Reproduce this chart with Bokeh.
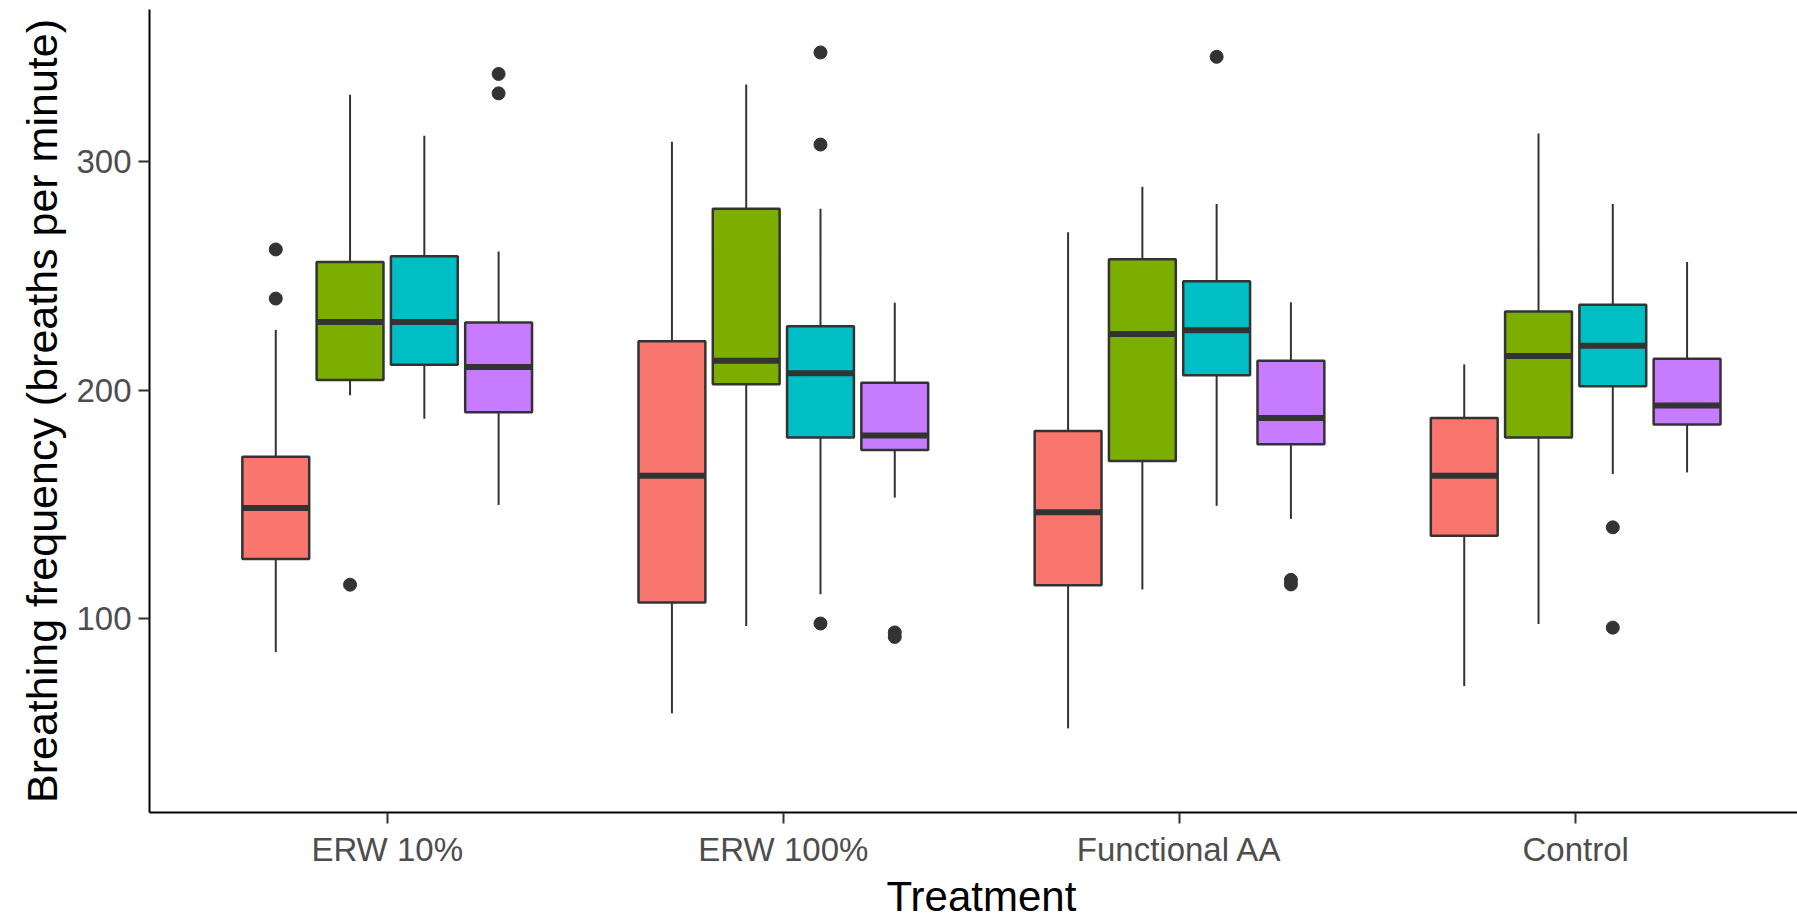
from bokeh.plotting import figure
from bokeh.models import FixedTicker, Range1d, Title
from bokeh.embed import file_html
from bokeh.resources import INLINE

# Treatments on the x axis and the four fill groups dodged within each
treatments = ["ERW 10%", "ERW 100%", "Functional AA", "Control"]
group_colors = ["#F8766D", "#7CAE00", "#00BFC4", "#C77CFF"]
y_ticks = [100, 200, 300]

# Box statistics, one list per fill group, values in treatment order
whisker_low = [
    [85.4, 58.6, 52.0, 70.5],
    [197.8, 96.8, 112.8, 97.7],
    [187.5, 110.7, 149.4, 163.3],
    [149.8, 153.0, 143.7, 164.0],
]
q1 = [
    [126.1, 107.1, 114.6, 136.3],
    [204.5, 202.6, 169.0, 179.3],
    [211.1, 179.3, 206.5, 201.7],
    [190.3, 173.8, 176.3, 185.0],
]
median = [
    [148.5, 162.6, 146.6, 162.6],
    [229.8, 212.9, 224.6, 215.0],
    [229.8, 207.4, 226.2, 219.5],
    [210.2, 180.2, 187.8, 193.3],
]
q3 = [
    [170.9, 221.4, 182.1, 187.8],
    [256.1, 279.4, 257.3, 234.4],
    [258.6, 228.0, 247.7, 237.4],
    [229.6, 203.3, 212.9, 213.8],
]
whisker_high = [
    [226.4, 308.7, 269.1, 211.3],
    [329.3, 333.8, 289.0, 312.3],
    [311.4, 279.4, 281.5, 281.5],
    [260.7, 238.3, 238.5, 256.1],
]

# Outlying observations: treatment index, group index, value
outlier_treatment = [0, 0, 0, 0, 0, 1, 1, 1, 1, 1, 2, 2, 2, 3, 3]
outlier_group = [0, 0, 1, 3, 3, 2, 2, 2, 3, 3, 2, 3, 3, 2, 2]
outlier_value = [261.6, 240.1, 114.9, 338.4, 329.9,
                 347.8, 307.5, 97.9, 94.0, 92.0,
                 345.9, 117.0, 115.0, 140.0, 96.1]

DODGE = 0.75
n_groups = len(group_colors)
slot = DODGE / n_groups
box_w = slot * 0.9
edge = "#333333"


def xpos(t, g):
    return t + 1 + (g - (n_groups - 1) / 2) * slot


p = figure(width=1797, height=919, output_backend="svg", toolbar_location=None,
           x_range=Range1d(0.4, 4.56), y_range=Range1d(15.2, 366.6),
           min_border_left=149, min_border_right=0, min_border_top=9,
           min_border_bottom=105)

p.background_fill_color = "white"
p.border_fill_color = "white"
p.outline_line_color = None
p.xgrid.grid_line_color = None
p.ygrid.grid_line_color = None

for g in range(n_groups):
    xs = [xpos(t, g) for t in range(len(treatments))]
    # whiskers
    p.segment(x0=xs, y0=whisker_low[g], x1=xs, y1=q1[g],
              line_color=edge, line_width=2)
    p.segment(x0=xs, y0=q3[g], x1=xs, y1=whisker_high[g],
              line_color=edge, line_width=2)
    # boxes
    p.vbar(x=xs, width=box_w, bottom=q1[g], top=q3[g],
           fill_color=group_colors[g], line_color=edge, line_width=2.5)
    # medians
    p.segment(x0=[x - box_w / 2 for x in xs], y0=median[g],
              x1=[x + box_w / 2 for x in xs], y1=median[g],
              line_color=edge, line_width=6, line_cap="butt")

p.scatter(x=[xpos(t, g) for t, g in zip(outlier_treatment, outlier_group)],
          y=outlier_value, size=13, color=edge)

font = "Liberation Sans"

for ax in (p.xaxis, p.yaxis):
    ax.axis_line_color = "black"
    ax.axis_line_width = 2
    ax.major_tick_line_color = edge
    ax.major_tick_line_width = 2
    ax.major_tick_out = 11
    ax.major_tick_in = 0
    ax.minor_tick_line_color = None
    ax.major_label_text_font = font
    ax.major_label_text_font_size = "33px"
    ax.major_label_text_color = "#4D4D4D"
    ax.major_label_standoff = 7

p.xaxis.ticker = FixedTicker(ticks=[1, 2, 3, 4])
p.xaxis.major_label_overrides = {i + 1: name for i, name in enumerate(treatments)}
p.yaxis.ticker = FixedTicker(ticks=y_ticks)

p.yaxis.axis_label = "Breathing frequency (breaths per minute)"
p.yaxis.axis_label_text_font = font
p.yaxis.axis_label_text_font_size = "43px"
p.yaxis.axis_label_text_font_style = "normal"
p.yaxis.axis_label_text_color = "black"
p.yaxis.axis_label_standoff = 7

# x-axis title, placed under the centre of the full panel width
p.add_layout(Title(text="Treatment", align="left", offset=737,
                   text_font=font, text_font_size="42px",
                   text_font_style="normal", text_color="black",
                   standoff=0), "below")

open("out.html", "w").write(file_html(p, INLINE))
